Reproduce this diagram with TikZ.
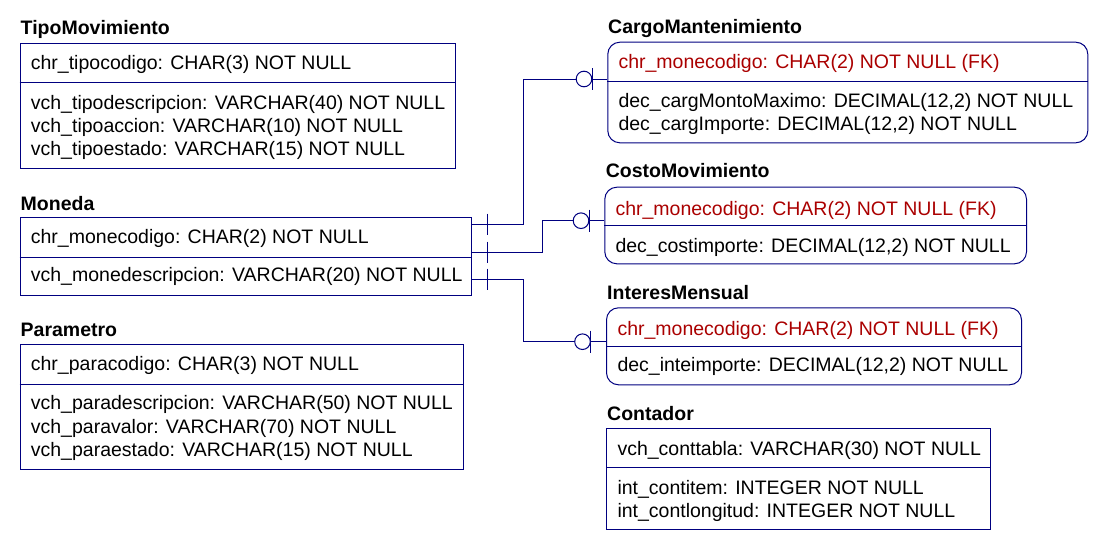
\documentclass[tikz,border=0pt]{standalone}
\usepackage{fontspec}
\setmainfont{Liberation Sans}
\definecolor{erblue}{RGB}{0,0,128}
\definecolor{fkred}{RGB}{170,0,0}
\begin{document}
\begin{tikzpicture}[x=1pt,y=-1pt,
  tbl/.style={draw=erblue, line width=1pt, inner sep=0pt, anchor=north west},
  fktbl/.style={tbl, rounded corners=12pt},
  ttl/.style={anchor=base west, inner sep=0pt, font=\fontsize{19.5}{23.5}\selectfont\bfseries},
  fld/.style={anchor=base west, inner sep=0pt, font=\fontsize{19.5}{23.5}\selectfont},
  fk/.style={fld, text=fkred},
  rel/.style={draw=erblue, line width=1pt},
  sep/.style={draw=erblue, line width=1pt}]
\useasboundingbox (0,0) rectangle (1103,549);

% ---------- TipoMovimiento ----------
\node[ttl] (tipoT) at (20.5,34.3) {TipoMovimiento};
\node[tbl, minimum width=435pt, minimum height=124.3pt] (tipo) at (19.5,43.3) {};
\draw[sep] (tipo.west |- 0,82) -- (tipo.east |- 0,82);
\node[fld] (tipo1) at (30.7,69.3) {chr\_tipocodigo: CHAR(3) NOT NULL};
\node[fld] (tipo2) at (30.7,109.3) {vch\_tipodescripcion: VARCHAR(40) NOT NULL};
\node[fld] (tipo3) at (30.7,132.5) {vch\_tipoaccion: VARCHAR(10) NOT NULL};
\node[fld] (tipo4) at (30.7,155.7) {vch\_tipoestado: VARCHAR(15) NOT NULL};

% ---------- Moneda ----------
\node[ttl] (monT) at (20.5,210) {Moneda};
\node[tbl, minimum width=451pt, minimum height=77.7pt] (moneda) at (19.5,217.3) {};
\draw[sep] (moneda.west |- 0,257) -- (moneda.east |- 0,257);
\node[fld] (mon1) at (30.7,243.3) {chr\_monecodigo: CHAR(2) NOT NULL};
\node[fld] (mon2) at (30.7,281.7) {vch\_monedescripcion: VARCHAR(20) NOT NULL};

% ---------- Parametro ----------
\node[ttl] (parT) at (20.5,336) {Parametro};
\node[tbl, minimum width=443pt, minimum height=124.7pt] (param) at (19.5,344.3) {};
\draw[sep] (param.west |- 0,384.3) -- (param.east |- 0,384.3);
\node[fld] (par1) at (30.7,370) {chr\_paracodigo: CHAR(3) NOT NULL};
\node[fld] (par2) at (30.7,409.7) {vch\_paradescripcion: VARCHAR(50) NOT NULL};
\node[fld] (par3) at (30.7,433) {vch\_paravalor: VARCHAR(70) NOT NULL};
\node[fld] (par4) at (30.7,456.3) {vch\_paraestado: VARCHAR(15) NOT NULL};

% ---------- CargoMantenimiento ----------
\node[ttl] (carT) at (608,33.3) {CargoMantenimiento};
\node[fktbl, minimum width=480pt, minimum height=100.6pt] (cargo) at (607.3,41.7) {};
\draw[sep] (cargo.west |- 0,81) -- (cargo.east |- 0,81);
\node[fk] (car1) at (618.3,68.3) {chr\_monecodigo: CHAR(2) NOT NULL (FK)};
\node[fld] (car2) at (618.3,107.3) {dec\_cargMontoMaximo: DECIMAL(12,2) NOT NULL};
\node[fld] (car3) at (618.3,130.3) {dec\_cargImporte: DECIMAL(12,2) NOT NULL};

% ---------- CostoMovimiento ----------
\node[ttl] (cosT) at (605.7,177.7) {CostoMovimiento};
\node[fktbl, minimum width=421.7pt, minimum height=76.6pt] (costo) at (604.3,186.7) {};
\draw[sep] (costo.west |- 0,225.3) -- (costo.east |- 0,225.3);
\node[fk] (cos1) at (615.3,215) {chr\_monecodigo: CHAR(2) NOT NULL (FK)};
\node[fld] (cos2) at (615.3,252.3) {dec\_costimporte: DECIMAL(12,2) NOT NULL};

% ---------- InteresMensual ----------
\node[ttl] (intT) at (607,299) {InteresMensual};
\node[fktbl, minimum width=415pt, minimum height=77pt] (interes) at (606,307.3) {};
\draw[sep] (interes.west |- 0,346) -- (interes.east |- 0,346);
\node[fk] (int1) at (617.3,335) {chr\_monecodigo: CHAR(2) NOT NULL (FK)};
\node[fld] (int2) at (617.3,371.7) {dec\_inteimporte: DECIMAL(12,2) NOT NULL};

% ---------- Contador ----------
\node[ttl] (conT) at (607,420) {Contador};
\node[tbl, minimum width=384pt, minimum height=101pt] (conta) at (606,428.3) {};
\draw[sep] (conta.west |- 0,467) -- (conta.east |- 0,467);
\node[fld] (con1) at (617.3,455) {vch\_conttabla: VARCHAR(30) NOT NULL};
\node[fld] (con2) at (617.3,494.3) {int\_contitem: INTEGER NOT NULL};
\node[fld] (con3) at (617.3,517.3) {int\_contlongitud: INTEGER NOT NULL};

% ---------- Relationships ----------
% Moneda -> CargoMantenimiento
\draw[rel] (moneda.east |- 0,224) -- (523.5,224) |- (cargo.west |- 0,79);
\draw[rel] (487.5,213.5) -- (487.5,234.5);
\draw[rel] (592,68) -- (592,90);
\draw[rel, fill=white] (584,79) circle (7.8pt);

% Moneda -> CostoMovimiento
\draw[rel] (moneda.east |- 0,252) -- (542.5,252) |- (costo.west |- 0,220.7);
\draw[rel] (487.5,241.5) -- (487.5,262.5);
\draw[rel] (589,209.7) -- (589,231.7);
\draw[rel, fill=white] (581,220.7) circle (7.8pt);

% Moneda -> InteresMensual
\draw[rel] (moneda.east |- 0,279) -- (523.5,279) |- (interes.west |- 0,341.7);
\draw[rel] (487.5,268.5) -- (487.5,289.5);
\draw[rel] (590.5,330.7) -- (590.5,352.7);
\draw[rel, fill=white] (582.5,341.7) circle (7.8pt);
\end{tikzpicture}
\end{document}
